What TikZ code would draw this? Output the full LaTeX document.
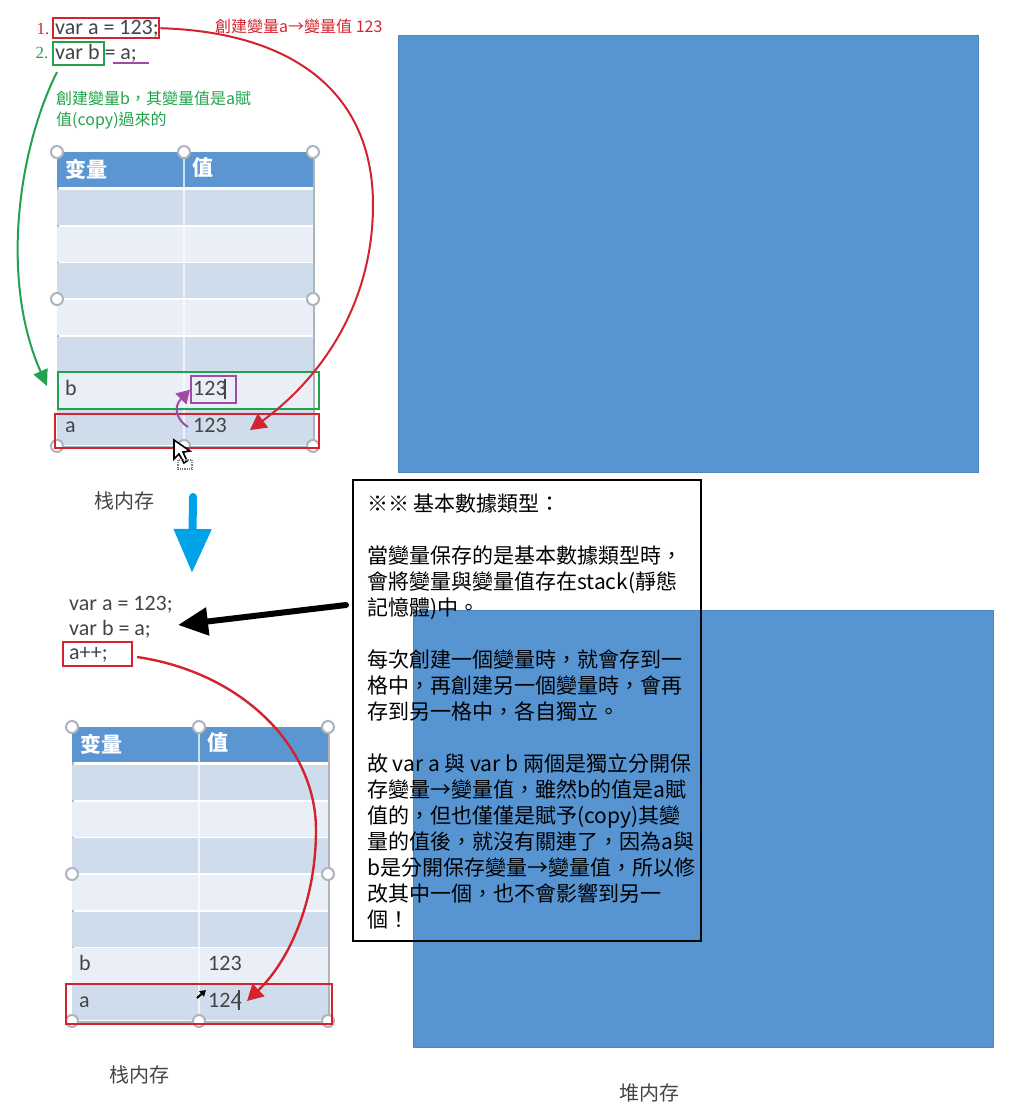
\documentclass[tikz,border=0pt]{standalone}
\usepackage{fontspec}
\setmainfont{Noto Sans CJK TC}
\newfontfamily\codefont{Carlito}
\newfontfamily\scfont{Noto Sans CJK SC}
\newfontfamily\numfont{Liberation Serif}
\usetikzlibrary{arrows.meta}
\definecolor{headBlue}{HTML}{5B96D2}
\definecolor{rowDark}{HTML}{CFDCEC}
\definecolor{rowLight}{HTML}{E9EEF7}
\definecolor{frameGray}{HTML}{AEB4BC}
\definecolor{heapBlue}{HTML}{5694D2}
\definecolor{heapEdge}{HTML}{4F86BD}
\definecolor{markRed}{HTML}{D2232F}
\definecolor{markGreen}{HTML}{23A24D}
\definecolor{markPurple}{HTML}{9E4BA6}
\definecolor{downBlue}{HTML}{00A2E8}
\definecolor{codeGray}{HTML}{444444}
\tikzstyle{cell} = [rectangle, anchor=north west, inner sep=0pt, minimum width=256pt]
\tikzstyle{handle} = [circle, draw=frameGray, fill=white, line width=2pt, minimum size=12pt, inner sep=0pt]
\tikzstyle{code} = [anchor=base west, inner sep=0pt, text=codeGray, font=\fontsize{22}{24}\selectfont\codefont]
\tikzstyle{caption} = [inner sep=0pt, text=codeGray, font=\fontsize{20}{24}\selectfont\scfont]
\tikzstyle{boxMark} = [rectangle, anchor=north west, inner sep=0pt, line width=2.4pt]
\tikzstyle{heap} = [rectangle, anchor=north west, inner sep=0pt, fill=heapBlue, draw=heapEdge, line width=1pt, minimum width=580pt, minimum height=437pt]
\tikzstyle{curveRed} = [draw=markRed, line width=2.4pt, -{Triangle[length=16pt,width=17pt]}]
\tikzstyle{note} = [anchor=west, inner sep=0pt, align=left, font=\fontsize{16}{21}\selectfont]
\newcommand{\stackTable}[3]{
\begin{scope}[shift={(#2,#3)}, name prefix=#1-]
\node (frame) [cell, fill=white, draw=frameGray, line width=2pt, minimum height=294pt] at (0,0) {};
\node (head) [cell, fill=headBlue, minimum height=35pt] at (0,0) {};
\foreach \i/\c in {1/rowDark,2/rowLight,3/rowDark,4/rowLight,5/rowDark,6/rowLight,7/rowDark}
  \node (row\i) [cell, fill=\c, minimum height=35pt] at (0,{38+(\i-1)*36.6}) {};
\draw[white, opacity=0.7, line width=1.5pt] (127,0) -- (127,294);
\node (name) [anchor=west, inner sep=0pt, text=white, font=\fontsize{21}{24}\selectfont\scfont\bfseries] at (8,17) {变量};
\node (value) [anchor=west, inner sep=0pt, text=white, font=\fontsize{21}{24}\selectfont\scfont\bfseries] at (135,16) {值};
\foreach \hx/\hy in {0/0,127/0,256/0,0/147,256/147,0/294,127/294,256/294}
  \node (h\hx-\hy) [handle] at (\hx,\hy) {};
\end{scope}
}

\begin{document}
\begin{tikzpicture}[x=1pt, y=-1pt]
\useasboundingbox (0,0) rectangle (1036,1114);

% upper stack
\stackTable{top}{57}{152}

\node (codeA) [code] at (55,34) {var a = 123;};
\node (codeB) [code] at (55,59) {var b = a;};
\node (num1) [inner sep=0pt, text=markRed, font=\fontsize{17}{20}\selectfont\numfont] at (43,29) {1.};
\node (num2) [inner sep=0pt, text=markGreen, font=\fontsize{17}{20}\selectfont\numfont] at (42,53) {2.};
\node (boxA) [boxMark, draw=markRed, minimum width=106pt, minimum height=20pt] at (52,17) {};
\node (boxB) [boxMark, draw=markGreen, minimum width=51pt, minimum height=23pt] at (52,41) {};
\coordinate (underL) at (113,63);
\coordinate (underR) at (149,63);
\draw[markPurple, line width=1.5pt] (underL) -- (underR);

\node (noteA) [anchor=west, inner sep=0pt, text=markRed, font=\fontsize{16}{20}\selectfont] at (215,26) {創建變量a→變量值 123};
\node (noteB) [note, text=markGreen] at (56,110) {創建變量b，其變量值是a賦\\值(copy)過來的};

\node (lblB) [code] at (65,395) {b};
\node (lblA) [code] at (65,432) {a};
\node (valB) [code] at (193,395) {123};
\node (valA) [code] at (193,432) {123};
\node (caretB) [rectangle, fill=codeGray, inner sep=0pt, minimum width=1.5pt, minimum height=20pt] at (225,389) {};

\node (rowBoxB) [boxMark, draw=markGreen, minimum width=261pt, minimum height=37pt] at (57,371) {};
\node (rowBoxA) [boxMark, draw=markRed, minimum width=264pt, minimum height=34pt] at (54,413) {};
\node (valBox) [boxMark, draw=markPurple, minimum width=45pt, minimum height=27pt] at (190,375) {};

\coordinate (tipA) at (250,430);
\coordinate (tipB) at (47,386);
\coordinate (startB) at (57,72);
\coordinate (startCopy) at (188,427);
\draw[curveRed, line width=2pt] (boxA.east) .. controls (290,32) and (373,90) .. (373,205) .. controls (373,300) and (325,375) .. (tipA);
\draw[draw=markGreen, line width=2pt, -{Triangle[length=16pt,width=15pt]}] (startB) .. controls (18,150) and (0,280) .. (tipB);
\draw[draw=markPurple, line width=2pt, -{Triangle[length=13pt,width=15pt]}] (startCopy) .. controls (178,421) and (172,408) .. (valBox.west);

% drag cursor
\coordinate (cursorTop) at (174,440);
\draw[black, fill=white, line width=1.6pt] (cursorTop) -- (174,459) -- (179,454) -- (184,463) -- (187,461) -- (183,452) -- (190,451) -- cycle;
\draw[gray, densely dotted, line width=1.2pt] (178,460) rectangle (192,469);

\node (captionA) [caption] at (124,501) {栈内存};

% step arrow
\coordinate (stepTop) at (193,497);
\coordinate (stepEnd) at (192,573);
\draw[downBlue, line width=8pt, line cap=round, -{Triangle[length=44pt,width=36pt]}] (stepTop) -- (stepEnd);

% heap blocks and text
\node (heapTop) [heap] at (398,35) {};
\node (noteBack) [rectangle, anchor=north west, inner sep=0pt, fill=white, minimum width=348pt, minimum height=461pt] at (353,480) {};
\node (heapLow) [heap] at (413,610) {};
\node (noteText) [anchor=north west, inner sep=0pt, align=left, text=black, font=\fontsize{21}{26}\selectfont] at (367,494) {%
※※ 基本數據類型：\\
\\
當變量保存的是基本數據類型時，\\
會將變量與變量值存在stack(靜態\\
記憶體)中。\\
\\
每次創建一個變量時，就會存到一\\
格中，再創建另一個變量時，會再\\
存到另一格中，各自獨立。\\
\\
故 var a 與 var b 兩個是獨立分開保\\
存變量→變量值，雖然b的值是a賦\\
值的，但也僅僅是賦予(copy)其變\\
量的值後，就沒有關連了，因為a與\\
b是分開保存變量→變量值，所以修\\
改其中一個，也不會影響到另一\\
個！};
\draw[black, line width=2pt] (noteBack.north west) rectangle (noteBack.south east);

\coordinate (pointFrom) at (346,605);
\coordinate (pointTo) at (178,625);
\draw[black, line width=6pt, line cap=round, -{Triangle[length=30pt,width=27pt]}] (pointFrom) -- (pointTo);

% lower stack
\stackTable{low}{72}{727}

\node (codeC) [code] at (69,610) {var a = 123;};
\node (codeD) [code] at (69,635) {var b = a;};
\node (codeE) [code] at (69,659) {a++;};
\node (boxE) [boxMark, draw=markRed, minimum width=69pt, minimum height=24pt] at (62,641) {};

\node (lblD) [code] at (79,970) {b};
\node (lblC) [code] at (79,1007) {a};
\node (valD) [code] at (208,970) {123};
\node (valC) [code] at (208,1007) {124};
\node (caretC) [rectangle, fill=codeGray, inner sep=0pt, minimum width=1.5pt, minimum height=20pt] at (239,1000) {};
\coordinate (moveFrom) at (197,998);
\coordinate (moveTo) at (206,990);
\draw[black, line width=2pt, -{Triangle[length=6pt,width=7pt]}] (moveFrom) -- (moveTo);

\node (rowBoxC) [boxMark, draw=markRed, minimum width=266pt, minimum height=40pt] at (65,983) {};
\coordinate (startE) at (137,657);
\coordinate (tipC) at (247,1001);
\draw[curveRed] (startE) .. controls (240,672) and (316,745) .. (316,830) .. controls (316,900) and (290,960) .. (tipC);

\node (captionB) [caption] at (139,1075) {栈内存};
\node (captionC) [caption] at (649,1093) {堆内存};

\end{tikzpicture}
\end{document}
